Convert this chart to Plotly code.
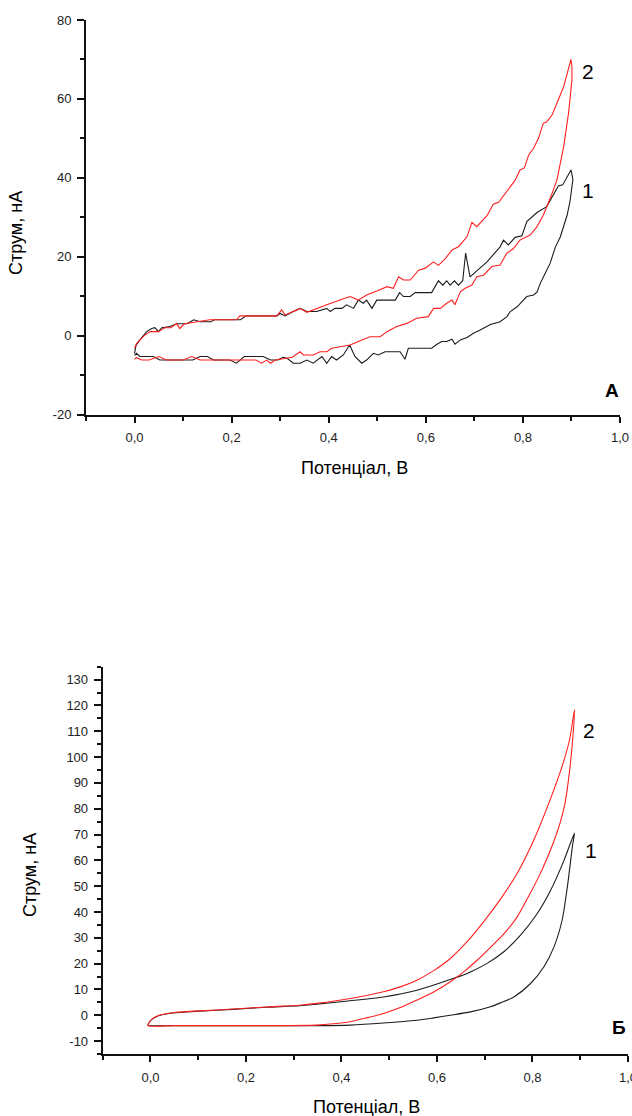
import plotly.graph_objects as go

# ---------------- Panel A: noisy cyclic voltammograms ----------------
a1_potential = [
    0.000, 0.003, 0.011, 0.018, 0.025, 0.035, 0.042, 0.049, 0.056, 0.070, 0.087, 0.108,
    0.122, 0.135, 0.157, 0.165, 0.206, 0.218, 0.230, 0.293, 0.300, 0.310, 0.325, 0.341,
    0.355, 0.375, 0.396, 0.403, 0.413, 0.427, 0.437, 0.451, 0.461, 0.471, 0.478, 0.489,
    0.499, 0.537, 0.546, 0.554, 0.568, 0.578, 0.612, 0.626, 0.635, 0.643, 0.650, 0.659,
    0.667, 0.676, 0.682, 0.691, 0.726, 0.753, 0.760, 0.770, 0.784, 0.798, 0.808, 0.818,
    0.829, 0.849, 0.867, 0.873, 0.882, 0.899,
    0.903, 0.897, 0.891, 0.884, 0.877, 0.867, 0.856, 0.846, 0.836, 0.829, 0.822, 0.808,
    0.797, 0.788, 0.774, 0.767, 0.753, 0.733, 0.712, 0.698, 0.685, 0.671, 0.660, 0.654,
    0.643, 0.633, 0.623, 0.612, 0.564, 0.557, 0.547, 0.516, 0.502, 0.492, 0.478, 0.468,
    0.454, 0.443, 0.430, 0.416, 0.406, 0.396, 0.386, 0.368, 0.355, 0.341, 0.327, 0.315,
    0.306, 0.295, 0.280, 0.265, 0.252, 0.226, 0.210, 0.196, 0.163, 0.150, 0.135, 0.120,
    0.087, 0.052, 0.039, 0.011, 0.004, 0.000,
]
a1_current = [
    -4.5, -2.5, -1.1, 0.0, 1.0, 1.8, 2.0, 1.0, 2.0, 2.2, 3.0, 3.0,
    4.0, 3.5, 3.5, 4.0, 4.0, 4.0, 5.0, 5.0, 5.6, 5.0, 6.0, 6.9,
    6.1, 6.1, 6.9, 6.1, 6.9, 6.9, 7.8, 6.9, 9.0, 8.2, 9.0, 6.9,
    9.0, 9.0, 10.9, 9.9, 9.9, 10.9, 10.9, 13.9, 12.8, 13.9, 12.8, 13.9,
    12.8, 13.9, 20.9, 14.9, 18.7, 22.5, 24.2, 23.0, 24.9, 25.3, 28.9, 30.1,
    31.2, 32.7, 36.5, 37.9, 38.2, 42.0,
    39.6, 34.0, 30.5, 27.5, 25.0, 22.5, 18.3, 15.8, 13.3, 11.0, 10.3, 9.9,
    8.5, 7.3, 6.1, 4.8, 3.5, 2.8, 1.4, 0.6, -0.5, -1.1, -2.2, -0.9,
    -1.5, -1.5, -2.2, -3.2, -3.2, -6.0, -4.1, -4.1, -4.9, -4.5, -6.2, -7.0,
    -5.3, -2.4, -4.9, -6.2, -5.3, -7.0, -5.3, -7.0, -6.2, -7.0, -7.0, -5.8,
    -5.5, -6.2, -6.2, -5.3, -5.3, -5.3, -7.0, -6.2, -6.2, -5.3, -5.3, -6.2,
    -6.2, -6.2, -5.3, -5.3, -4.5, -5.0,
]

a2_potential = [
    0.000, 0.004, 0.011, 0.020, 0.032, 0.049, 0.062, 0.075, 0.087, 0.093, 0.103, 0.128,
    0.155, 0.210, 0.217, 0.293, 0.303, 0.310, 0.325, 0.341, 0.355, 0.375, 0.396, 0.423,
    0.444, 0.461, 0.478, 0.499, 0.520, 0.533, 0.544, 0.554, 0.568, 0.585, 0.599, 0.616,
    0.626, 0.640, 0.654, 0.668, 0.678, 0.685, 0.695, 0.705, 0.726, 0.739, 0.750, 0.767,
    0.784, 0.794, 0.803, 0.812, 0.822, 0.832, 0.842, 0.849, 0.860, 0.870, 0.884, 0.899,
    0.901, 0.901, 0.894, 0.884, 0.877, 0.870, 0.860, 0.849, 0.842, 0.829, 0.815, 0.794,
    0.780, 0.767, 0.753, 0.736, 0.719, 0.705, 0.695, 0.681, 0.671, 0.660, 0.654, 0.643,
    0.630, 0.616, 0.605, 0.581, 0.568, 0.561, 0.540, 0.520, 0.506, 0.485, 0.461, 0.444,
    0.406, 0.396, 0.382, 0.368, 0.348, 0.341, 0.325, 0.306, 0.290, 0.280, 0.272, 0.262,
    0.250, 0.230, 0.203, 0.170, 0.135, 0.118, 0.100, 0.066, 0.050, 0.030, 0.015, 0.004,
    0.000,
]
a2_current = [
    -3.2, -2.0, -1.1, 0.0, 1.0, 1.0, 2.0, 2.0, 3.1, 1.8, 3.0, 3.5,
    4.0, 4.0, 5.0, 5.0, 6.5, 5.2, 6.0, 6.9, 5.9, 6.9, 7.8, 9.0,
    9.9, 9.0, 10.3, 11.3, 12.4, 12.0, 14.9, 14.1, 14.1, 16.6, 17.1, 18.7,
    17.8, 19.5, 21.7, 22.6, 24.2, 25.1, 28.7, 27.6, 30.4, 33.3, 33.8, 36.5,
    39.4, 42.0, 42.5, 45.8, 47.5, 50.0, 53.8, 54.2, 55.9, 58.9, 63.1, 70.0,
    68.2, 64.8, 56.4, 47.9, 44.0, 39.4, 36.0, 32.7, 30.5, 27.6, 25.5, 24.2,
    22.0, 20.9, 17.9, 17.5, 15.3, 14.9, 12.8, 12.0, 11.1, 7.8, 9.0, 8.2,
    6.9, 6.9, 4.8, 4.4, 3.5, 3.1, 2.3, 1.0, -0.3, -0.3, -1.5, -2.4,
    -3.2, -4.1, -4.1, -4.9, -4.9, -4.1, -5.5, -5.8, -6.2, -7.0, -6.2, -7.0,
    -6.2, -6.2, -6.2, -6.2, -6.2, -5.3, -6.2, -6.2, -5.3, -6.2, -6.2, -5.6,
    -6.0,
]

# ---------------- Panel Б: smooth cyclic voltammograms ----------------
b1_potential = [
    -0.005, -0.002, 0.005, 0.020, 0.047, 0.103, 0.173, 0.243, 0.313, 0.348, 0.418, 0.488,
    0.558, 0.635, 0.670, 0.705, 0.740, 0.775, 0.810, 0.838, 0.866, 0.888,
    0.884, 0.880, 0.873, 0.862, 0.845, 0.824, 0.796, 0.761, 0.733, 0.712, 0.670, 0.628,
    0.593, 0.558, 0.488, 0.418, 0.348, 0.250, 0.150, 0.050, -0.005,
]
b1_current = [
    -3.8, -2.6, -1.3, 0.0, 0.9, 1.6, 2.3, 3.1, 3.7, 4.3, 5.6, 7.1,
    9.7, 14.3, 16.8, 20.1, 24.6, 31.0, 39.4, 48.4, 60.0, 70.6,
    66.0, 60.0, 49.7, 36.8, 26.5, 18.8, 12.3, 7.1, 4.8, 3.3, 1.3, 0.0,
    -1.0, -1.9, -3.0, -3.8, -4.0, -4.0, -4.0, -4.0, -3.8,
]

b2_potential = [
    -0.005, -0.002, 0.005, 0.020, 0.047, 0.103, 0.173, 0.243, 0.313, 0.348, 0.418, 0.488,
    0.523, 0.558, 0.593, 0.628, 0.663, 0.698, 0.733, 0.768, 0.803, 0.838, 0.863, 0.878,
    0.888,
    0.884, 0.877, 0.868, 0.857, 0.845, 0.831, 0.813, 0.793, 0.768, 0.740, 0.712, 0.684,
    0.656, 0.628, 0.593, 0.558, 0.523, 0.488, 0.453, 0.418, 0.383, 0.348, 0.250, 0.150,
    0.050, -0.005,
]
b2_current = [
    -4.0, -2.5, -1.2, 0.1, 1.0, 1.7, 2.4, 3.2, 3.9, 4.6, 6.5, 9.1,
    11.0, 13.6, 17.3, 22.0, 28.5, 36.3, 45.0, 55.0, 68.0, 84.0, 97.0, 107.0,
    118.4,
    106.5, 93.6, 82.0, 74.0, 67.5, 61.0, 53.6, 46.5, 38.1, 31.5, 26.3, 21.3,
    16.8, 13.0, 9.0, 5.9, 3.0, 0.7, -1.0, -2.5, -3.3, -3.8, -4.0, -4.0,
    -4.0, -4.0,
]

# Axis ticks
x_ticks = [0.0, 0.2, 0.4, 0.6, 0.8, 1.0]
x_ticktext = ["0,0", "0,2", "0,4", "0,6", "0,8", "1,0"]
x_minor = [-0.1, 0.1, 0.3, 0.5, 0.7, 0.9]
ya_ticks = [-20, 0, 20, 40, 60, 80]
ya_ticktext = ["-20", "0", "20", "40", "60", "80"]
ya_minor = [-10, 10, 30, 50, 70]
yb_ticks = list(range(-10, 131, 10))
yb_ticktext = [str(v) for v in yb_ticks]
yb_minor = list(range(-15, 136, 10))

x_title = "Потенціал, В"
y_title = "Струм, нА"

BLACK = "#1c1c1c"
RED = "#ff1f1f"
FONT = "Liberation Sans, Arial, sans-serif"
W, H = 632, 1116

fig = go.Figure()
fig.add_trace(go.Scatter(x=a1_potential, y=a1_current, mode="lines",
                         line=dict(color=BLACK, width=1.1), xaxis="x", yaxis="y"))
fig.add_trace(go.Scatter(x=a2_potential, y=a2_current, mode="lines",
                         line=dict(color=RED, width=1.1), xaxis="x", yaxis="y"))
fig.add_trace(go.Scatter(x=b1_potential, y=b1_current, mode="lines",
                         line=dict(color=BLACK, width=1.1, shape="spline", smoothing=0.7),
                         xaxis="x2", yaxis="y2"))
fig.add_trace(go.Scatter(x=b2_potential, y=b2_current, mode="lines",
                         line=dict(color=RED, width=1.1, shape="spline", smoothing=0.7),
                         xaxis="x2", yaxis="y2"))


def xaxis_style(domain, anchor):
    return dict(
        domain=domain, anchor=anchor, range=[-0.1, 1.0], showgrid=False, zeroline=False,
        showline=True, linecolor="#111", linewidth=2, mirror=False,
        tickmode="array", tickvals=x_ticks, ticktext=x_ticktext,
        ticks="outside", ticklen=6, tickwidth=1.5, tickcolor="#111",
        ticklabelstandoff=4, ticklabeloverflow="allow",
        tickfont=dict(family=FONT, size=13, color="#222"),
        minor=dict(tickmode="array", tickvals=x_minor, ticks="outside", ticklen=4,
                   tickwidth=1.5, tickcolor="#111"),
        fixedrange=True,
    )


def yaxis_style(domain, anchor, rng, vals, text, minor):
    return dict(
        domain=domain, anchor=anchor, range=rng, showgrid=False, zeroline=False,
        showline=True, linecolor="#111", linewidth=2, mirror=False,
        tickmode="array", tickvals=vals, ticktext=text,
        ticks="outside", ticklen=7, tickwidth=1.5, tickcolor="#111",
        ticklabelstandoff=3,
        tickfont=dict(family=FONT, size=13, color="#222"),
        minor=dict(tickmode="array", tickvals=minor, ticks="outside", ticklen=4,
                   tickwidth=1.5, tickcolor="#111"),
        fixedrange=True,
    )


def to_paper(xp, yp):
    return xp / W, 1 - yp / H


annotations = []


def label(text, xp, yp, size, bold=False, angle=0):
    x, y = to_paper(xp, yp)
    annotations.append(dict(
        text=f"<b>{text}</b>" if bold else text, x=x, y=y, xref="paper", yref="paper",
        xanchor="center", yanchor="middle", showarrow=False, textangle=angle,
        font=dict(family=FONT, size=size, color="#000"),
    ))


label(x_title, 354, 468, 18)
label(y_title, 16, 233, 18, angle=-90)
label("2", 588, 71, 21)
label("1", 588, 190, 21)
label("А", 612, 390, 19, bold=True)

label(x_title, 366, 1107, 18)
label(y_title, 30, 875, 18, angle=-90)
label("2", 589, 730, 21)
label("1", 591, 850, 21)
label("Б", 619, 1027, 19, bold=True)

fig.update_layout(
    width=W, height=H, margin=dict(l=0, r=0, t=0, b=0, autoexpand=False),
    paper_bgcolor="white", plot_bgcolor="white", showlegend=False,
    xaxis=xaxis_style([86 / W, 620 / W], "y"),
    yaxis=yaxis_style([1 - 414.5 / H, 1 - 20 / H], "x", [-20, 80],
                      ya_ticks, ya_ticktext, ya_minor),
    xaxis2=xaxis_style([102.7 / W, 628 / W], "y2"),
    yaxis2=yaxis_style([1 - 1054 / H, 1 - 666.7 / H], "x2", [-15, 135],
                       yb_ticks, yb_ticktext, yb_minor),
    annotations=annotations,
)

fig.write_html("out.html", config={"displayModeBar": False})
